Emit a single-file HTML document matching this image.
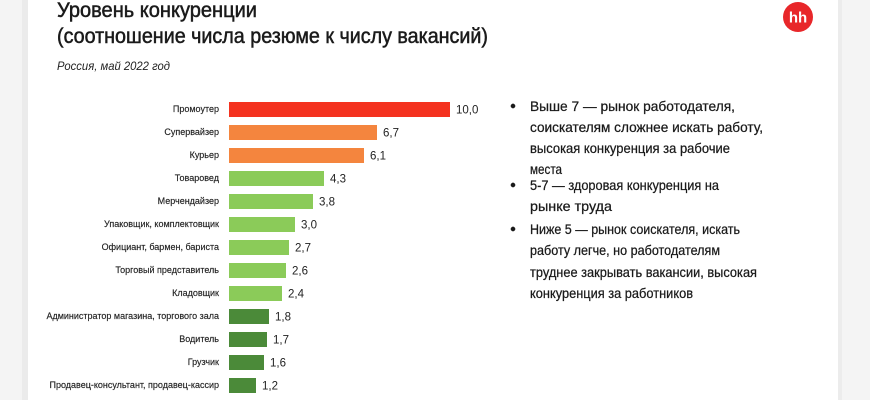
<!DOCTYPE html>
<html><head><meta charset="utf-8"><style>
html,body{margin:0;padding:0;width:870px;height:400px;overflow:hidden;background:#fff}
</style></head><body>
<svg width="870" height="400" viewBox="0 0 870 400" xmlns="http://www.w3.org/2000/svg" font-family="Liberation Sans, sans-serif">
<rect x="0" y="0" width="870" height="400" fill="#fff"/>
<rect x="0" y="0" width="22" height="400" fill="#f4f4f4"/>
<rect x="22" y="0" width="6" height="400" fill="#ebebeb"/>
<rect x="840" y="0" width="30" height="400" fill="#f4f4f4"/>
<rect x="838" y="0" width="4" height="400" fill="#ececec"/>
<g stroke="#1a1a1a" stroke-width="0.5">
<text x="57" y="17" font-size="21" fill="#1a1a1a" textLength="200" lengthAdjust="spacingAndGlyphs">Уровень конкуренции</text>
<text x="57" y="43" font-size="21" fill="#1a1a1a" textLength="431" lengthAdjust="spacingAndGlyphs">(соотношение числа резюме к числу вакансий)</text>
</g>
<text x="57" y="70" font-size="12" font-style="italic" fill="#222" textLength="113" lengthAdjust="spacingAndGlyphs">Россия, май 2022 год</text>
<circle cx="798" cy="17" r="15" fill="#e8272a"/>
<text x="798" y="22.5" font-size="15" font-weight="bold" fill="#fff" text-anchor="middle">hh</text>
<g font-size="9" fill="#222" text-anchor="end" stroke="#222" stroke-width="0.15">
<text x="219" y="112">Промоутер</text>
<text x="219" y="135">Супервайзер</text>
<text x="219" y="158">Курьер</text>
<text x="219" y="181">Товаровед</text>
<text x="219" y="204">Мерчендайзер</text>
<text x="219" y="227">Упаковщик, комплектовщик</text>
<text x="219" y="250">Официант, бармен, бариста</text>
<text x="219" y="273">Торговый представитель</text>
<text x="219" y="296">Кладовщик</text>
<text x="219" y="319">Администратор магазина, торгового зала</text>
<text x="219" y="342">Водитель</text>
<text x="219" y="365">Грузчик</text>
<text x="219" y="388">Продавец-консультант, продавец-кассир</text>
</g>
<g>
<rect x="229" y="102" width="221" height="15" fill="#f4321f"/>
<rect x="229" y="125" width="148" height="15" fill="#f4853e"/>
<rect x="229" y="148" width="135" height="15" fill="#f4853e"/>
<rect x="229" y="171" width="95" height="15" fill="#8bcb59"/>
<rect x="229" y="194" width="84" height="15" fill="#8bcb59"/>
<rect x="229" y="217" width="66" height="15" fill="#8bcb59"/>
<rect x="229" y="240" width="60" height="15" fill="#8bcb59"/>
<rect x="229" y="263" width="57" height="15" fill="#8bcb59"/>
<rect x="229" y="286" width="53" height="15" fill="#8bcb59"/>
<rect x="229" y="309" width="40" height="15" fill="#4b8a39"/>
<rect x="229" y="332" width="38" height="15" fill="#4b8a39"/>
<rect x="229" y="355" width="35" height="15" fill="#4b8a39"/>
<rect x="229" y="378" width="27" height="15" fill="#4b8a39"/>
</g>
<g font-size="11.5" fill="#222">
<text x="456" y="113.5">10,0</text>
<text x="383" y="136.5">6,7</text>
<text x="370" y="159.5">6,1</text>
<text x="330" y="182.5">4,3</text>
<text x="319" y="205.5">3,8</text>
<text x="301" y="228.5">3,0</text>
<text x="295" y="251.5">2,7</text>
<text x="292" y="274.5">2,6</text>
<text x="288" y="297.5">2,4</text>
<text x="275" y="320.5">1,8</text>
<text x="273" y="343.5">1,7</text>
<text x="270" y="366.5">1,6</text>
<text x="262" y="389.5">1,2</text>
</g>
<g font-size="14" fill="#1a1a1a" stroke="#1a1a1a" stroke-width="0.25">
<circle cx="513" cy="106" r="2.2"/>
<text x="530" y="111" textLength="205" lengthAdjust="spacingAndGlyphs">Выше 7 — рынок работодателя,</text>
<text x="530" y="132" textLength="233" lengthAdjust="spacingAndGlyphs">соискателям сложнее искать работу,</text>
<text x="530" y="153" textLength="200" lengthAdjust="spacingAndGlyphs">высокая конкуренция за рабочие</text>
<text x="530" y="174" textLength="32" lengthAdjust="spacingAndGlyphs">места</text>
<circle cx="513" cy="185" r="2.2"/>
<text x="530" y="190" textLength="189" lengthAdjust="spacingAndGlyphs">5-7 — здоровая конкуренция на</text>
<text x="530" y="211" textLength="82" lengthAdjust="spacingAndGlyphs">рынке труда</text>
<circle cx="513" cy="229" r="2.2"/>
<text x="530" y="234" textLength="210" lengthAdjust="spacingAndGlyphs">Ниже 5 — рынок соискателя, искать</text>
<text x="530" y="255" textLength="190" lengthAdjust="spacingAndGlyphs">работу легче, но работодателям</text>
<text x="530" y="277" textLength="227" lengthAdjust="spacingAndGlyphs">труднее закрывать вакансии, высокая</text>
<text x="530" y="298" textLength="163" lengthAdjust="spacingAndGlyphs">конкуренция за работников</text>
</g>
</svg>
</body></html>
